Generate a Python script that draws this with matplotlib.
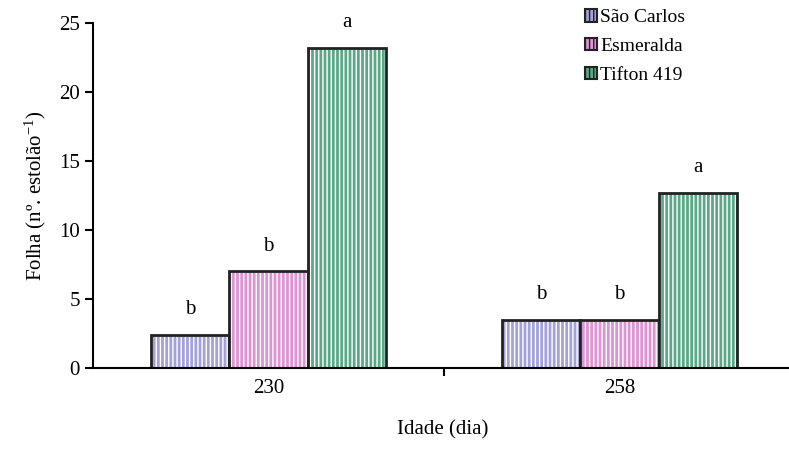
import numpy as np
import matplotlib
matplotlib.use("Agg")
import matplotlib.pyplot as plt

# data
idades = ["230", "258"]
cultivares = ["São Carlos", "Esmeralda", "Tifton 419"]
folha_sao_carlos = [2.4, 3.5]
folha_esmeralda = [7.0, 3.5]
folha_tifton = [23.2, 12.7]
letras_sao_carlos = ["b", "b"]
letras_esmeralda = ["b", "b"]
letras_tifton = ["a", "a"]

matplotlib.rcParams["font.family"] = ["Liberation Serif", "DejaVu Serif"]
matplotlib.rcParams["mathtext.default"] = "regular"
matplotlib.rcParams["hatch.linewidth"] = 1.0

fig = plt.figure(figsize=(7.89, 4.57), dpi=100)
ax = fig.add_axes([0.118, 0.195, 0.885, 0.755])

x = np.arange(len(idades))
w = 0.223
series = [
    (folha_sao_carlos, letras_sao_carlos, "#a3a1d8", "#ffffff", "||||"),
    (folha_esmeralda, letras_esmeralda, "#dc94d2", "#ffffff", "||||"),
    (folha_tifton, letras_tifton, "#5ba888", "#ffffff", "||||"),
]
handles = []
for i, (vals, letras, cor, cor_hatch, hatch) in enumerate(series):
    pos = x + (i - 1) * w
    # fill with hatch pattern, then black outline on top
    ax.bar(pos, vals, w, color=cor, edgecolor=cor_hatch, hatch=hatch, linewidth=0)
    ax.bar(pos, vals, w, fill=False, edgecolor="#222222", linewidth=2)
    for xp, v, l in zip(pos, vals, letras):
        ax.annotate(l, (xp, v), xytext=(0, 11), textcoords="offset points",
                    ha="center", va="bottom", fontsize=15)
    h = plt.Rectangle((0, 0), 1, 1, facecolor=cor, edgecolor="#222222",
                      hatch=hatch, linewidth=1.5)
    handles.append(h)

ax.set_xlim(-0.5, 1.49)
ax.set_ylim(0, 25)
ax.set_yticks([0, 5, 10, 15, 20, 25])
ax.set_xticks(x)
ax.set_xticklabels(idades)
ax.set_xticks([0.5], minor=True)
ax.tick_params(axis="x", which="major", length=0, pad=8, labelsize=15)
ax.tick_params(axis="x", which="minor", length=6, width=1.5, direction="out")
ax.tick_params(axis="y", length=6, width=1.5, direction="out", labelsize=15)
ax.spines["top"].set_visible(False)
ax.spines["right"].set_visible(False)
ax.spines["left"].set_linewidth(1.5)
ax.spines["bottom"].set_linewidth(1.5)

ax.set_ylabel("Folha (nº. estolão$^{-1}$)", fontsize=15, labelpad=8)
ax.set_xlabel("Idade (dia)", fontsize=15, labelpad=16)

ax.legend(handles, cultivares, loc="upper left", bbox_to_anchor=(0.68, 1.09),
          frameon=False, fontsize=14, handlelength=0.6, handleheight=0.6,
          handletextpad=0.15, labelspacing=0.6)

fig.savefig("out.png", dpi=100)
